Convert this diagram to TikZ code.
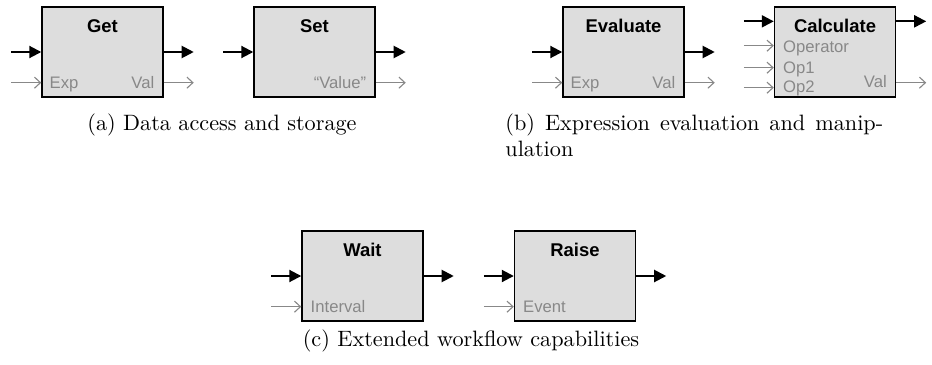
\documentclass[tikz,border=0pt]{standalone}
\usepackage{fontspec}
\usetikzlibrary{calc,arrows.meta}
\newfontfamily\blockfont{Liberation Sans}
\definecolor{blockgray}{HTML}{DDDDDD}
\definecolor{portgray}{HTML}{888888}

\begin{document}
\begin{tikzpicture}[x=0.45pt,y=0.45pt,
    block/.style={draw,line width=0.6pt,fill=blockgray,minimum width=54.5pt,minimum height=40.5pt,inner sep=0pt},
    blocktitle/.style={font=\blockfont\bfseries\fontsize{8.3}{10}\selectfont,inner sep=0pt,anchor=base},
    port/.style={font=\blockfont\fontsize{7.5}{9}\selectfont,text=portgray,inner sep=0pt},
    ctrl/.style={line width=0.9pt,-{Triangle[length=5.4pt,width=5.4pt]}},
    data/.style={line width=0.5pt,portgray,-{Straight Barb[length=2.7pt,width=5pt]}},
    subcap/.style={inner sep=0pt,anchor=base}]
            \useasboundingbox (0,0) rectangle (932,364);

            % (a) data access and storage
            \node[block] (get) at (102.5,312) {};
            \node[blocktitle] (gettitle) at ($(get.north)+(0,-26)$) {Get};
            \node[port,anchor=base west] (getexp) at ($(get.south west)+(8,9)$) {Exp};
            \node[port,anchor=base east] (getval) at ($(get.south east)+(-9,9)$) {Val};
            \draw[ctrl] ($(get.west)+(-30,0)$)--(get.west);
            \draw[ctrl] (get.east)--++(30,0);
            \draw[data] ($(get.south west)+(-30,15)$)--($(get.south west)+(0,15)$);
            \draw[data] ($(get.south east)+(0,15)$)--++(30,0);

            \node[block] (set) at (314.5,312) {};
            \node[blocktitle] (settitle) at ($(set.north)+(0,-26)$) {Set};
            \node[port,anchor=base east] (setval) at ($(set.south east)+(-9,9)$) {“Value”};
            \draw[ctrl] ($(set.west)+(-30,0)$)--(set.west);
            \draw[ctrl] (set.east)--++(30,0);
            \draw[data] ($(set.south east)+(0,15)$)--++(30,0);

            \node[subcap] (capa) at (222,234) {(a) Data access and storage};

            % (b) expression evaluation
            \node[block] (evaluate) at (623.5,312) {};
            \node[blocktitle] (evaltitle) at ($(evaluate.north)+(0,-26)$) {Evaluate};
            \node[port,anchor=base west] (evalexp) at ($(evaluate.south west)+(8,9)$) {Exp};
            \node[port,anchor=base east] (evalval) at ($(evaluate.south east)+(-9,9)$) {Val};
            \draw[ctrl] ($(evaluate.west)+(-30,0)$)--(evaluate.west);
            \draw[ctrl] (evaluate.east)--++(30,0);
            \draw[data] ($(evaluate.south west)+(-30,15)$)--($(evaluate.south west)+(0,15)$);
            \draw[data] ($(evaluate.south east)+(0,15)$)--++(30,0);

            \node[block] (calculate) at (835,312) {};
            \node[blocktitle] (calctitle) at ($(calculate.north)+(0,-26)$) {Calculate};
            \node[port,anchor=base west] (calcop) at ($(calculate.south west)+(9,45)$) {Operator};
            \node[port,anchor=base west] (calcopa) at ($(calculate.south west)+(9,24)$) {Op1};
            \node[port,anchor=base west] (calcopb) at ($(calculate.south west)+(9,5)$) {Op2};
            \node[port,anchor=base east] (calcval) at ($(calculate.south east)+(-9,10)$) {Val};
            \draw[ctrl] ($(calculate.north west)+(-30,-15)$)--($(calculate.north west)+(0,-15)$);
            \draw[ctrl] ($(calculate.north east)+(0,-15)$)--++(30,0);
            \draw[data] ($(calculate.south west)+(-30,52)$)--($(calculate.south west)+(0,52)$);
            \draw[data] ($(calculate.south west)+(-30,30)$)--($(calculate.south west)+(0,30)$);
            \draw[data] ($(calculate.south west)+(-30,10)$)--($(calculate.south west)+(0,10)$);
            \draw[data] ($(calculate.south east)+(0,15)$)--++(30,0);

            \node[subcap,anchor=base west,text width=170pt,align=justify] (capb) at (505,234)
                {(b) Expression evaluation and manip-\linebreak ulation};

            % (c) extended workflow
            \node[block] (wait) at (362.5,88) {};
            \node[blocktitle] (waittitle) at ($(wait.north)+(0,-26)$) {Wait};
            \node[port,anchor=base west] (waitint) at ($(wait.south west)+(9,9)$) {Interval};
            \draw[ctrl] ($(wait.west)+(-30,0)$)--(wait.west);
            \draw[ctrl] (wait.east)--++(30,0);
            \draw[data] ($(wait.south west)+(-30,15)$)--($(wait.south west)+(0,15)$);

            \node[block] (raise) at (575,88) {};
            \node[blocktitle] (raisetitle) at ($(raise.north)+(0,-26)$) {Raise};
            \node[port,anchor=base west] (raiseevt) at ($(raise.south west)+(9,9)$) {Event};
            \draw[ctrl] ($(raise.west)+(-30,0)$)--(raise.west);
            \draw[ctrl] (raise.east)--++(30,0);
            \draw[data] ($(raise.south west)+(-30,15)$)--($(raise.south west)+(0,15)$);

            \node[subcap] (capc) at (471,18) {(c) Extended workflow capabilities};
        \end{tikzpicture}
\end{document}
